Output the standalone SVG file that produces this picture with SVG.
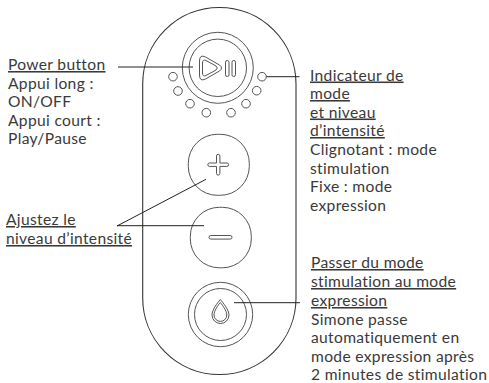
<svg xmlns="http://www.w3.org/2000/svg" width="489" height="383" viewBox="0 0 489 383">
<style>
.s{fill:none;stroke:#555;stroke-width:1}
.b{fill:none;stroke:#333;stroke-width:1.1}
.c{fill:none;stroke:#222;stroke-width:1}
text{font-family:"Lato","Liberation Sans",sans-serif;font-size:15.6px;letter-spacing:.33px;fill:#3a3a3a}
.u{text-decoration:underline}
</style>
<rect width="489" height="383" fill="#fff"/>
<g id="body"><rect class="b" x="142.7" y="7.5" width="153.3" height="367" rx="76.6" ry="76.6"/></g>
<g id="power-button">
<circle class="s" cx="217.8" cy="67.8" r="35.5"/><circle class="s" cx="217.8" cy="67.8" r="28.7"/>
<path class="s" d="M199.500 61q0-7 6-4l14 8q4 3 0 6l-14 8q-6 3-6-4z"/>
<path class="s" d="M202.500 63q0-4 3.500-2.500l10 5.500q2.500 2 0 4l-10 5.500q-3.500 1.500-3.500-2.500z"/>
<rect class="s" x="225.500" y="60.500" width="3.500" height="16" rx="1.700"/><rect class="s" x="232" y="60.500" width="3.500" height="16" rx="1.700"/>
</g>
<g id="leds">
<circle class="s" cx="173" cy="76.700" r="4.300"/><circle class="s" cx="178" cy="91" r="4.300"/><circle class="s" cx="190" cy="103.700" r="4.300"/><circle class="s" cx="206.300" cy="112.700" r="4.300"/><circle class="s" cx="231" cy="112.700" r="4.300"/><circle class="s" cx="246" cy="103.700" r="4.300"/><circle class="s" cx="256.700" cy="90.700" r="4.300"/><circle class="s" cx="262" cy="76.700" r="4.300"/>
</g>
<g id="plus-button">
<rect class="s" x="188.300" y="134.300" width="61" height="61" rx="29"/>
<path class="s" d="M216.500 156a1.700 1.700 0 0 1 3.400 0v7h7a1.700 1.700 0 0 1 0 3.400h-7v7a1.700 1.700 0 0 1-3.400 0v-7h-7a1.700 1.700 0 0 1 0-3.400h7z"/>
</g>
<g id="minus-button">
<rect class="s" x="190.300" y="207.300" width="61" height="60.500" rx="29"/>
<rect class="s" x="209" y="235.500" width="23" height="3.600" rx="1.800"/>
</g>
<g id="mode-button">
<circle class="s" cx="220.500" cy="314.500" r="32.200"/><circle class="s" cx="220.500" cy="314.500" r="26"/>
<path class="s" d="M220.300 299.500c3 3.500 8.700 10.500 8.700 15.500a8.500 8.500 0 0 1-17 0c0-5 5.300-12 8.300-15.500z"/>
<path class="s" d="M220.300 302.500c2.500 3 6.500 8.500 6.500 12.500a6.400 6.400 0 0 1-12.800 0c0-4 3.800-9.500 6.300-12.500z"/>
</g>
<g id="connectors">
<path class="c" d="M118 67H193"/>
<path class="c" d="M266.300 76.700H299.500"/>
<path class="c" d="M117 226L206 179.300"/>
<path class="c" d="M117 225.700H204"/>
<path class="c" d="M234 302.700H300"/>
</g>
<g id="label-power">
<text class="u" x="8" y="70">Power button</text>
<text x="8" y="89">Appui long :</text>
<text x="8" y="107">ON/OFF</text>
<text x="8" y="126">Appui court :</text>
<text x="8" y="144">Play/Pause</text>
</g>
<g id="label-intensity">
<text class="u" x="6" y="225">Ajustez le</text>
<text class="u" x="6" y="244">niveau d’intensité</text>
</g>
<g id="label-indicator">
<text class="u" x="310" y="80.500">Indicateur de</text>
<text class="u" x="310" y="99">mode</text>
<text class="u" x="310" y="117.500">et niveau</text>
<text class="u" x="310" y="136">d’intensité</text>
<text x="310" y="155">Clignotant : mode</text>
<text x="310" y="173.500">stimulation</text>
<text x="310" y="192">Fixe : mode</text>
<text x="310" y="210.500">expression</text>
</g>
<g id="label-mode">
<text class="u" x="311" y="268">Passer du mode</text>
<text class="u" x="311" y="287">stimulation au mode</text>
<text class="u" x="311" y="306">expression</text>
<text x="311" y="324.500">Simone passe</text>
<text x="311" y="343">automatiquement en</text>
<text x="311" y="361.500">mode expression après</text>
<text x="311" y="380">2 minutes de stimulation</text>
</g>
</svg>
